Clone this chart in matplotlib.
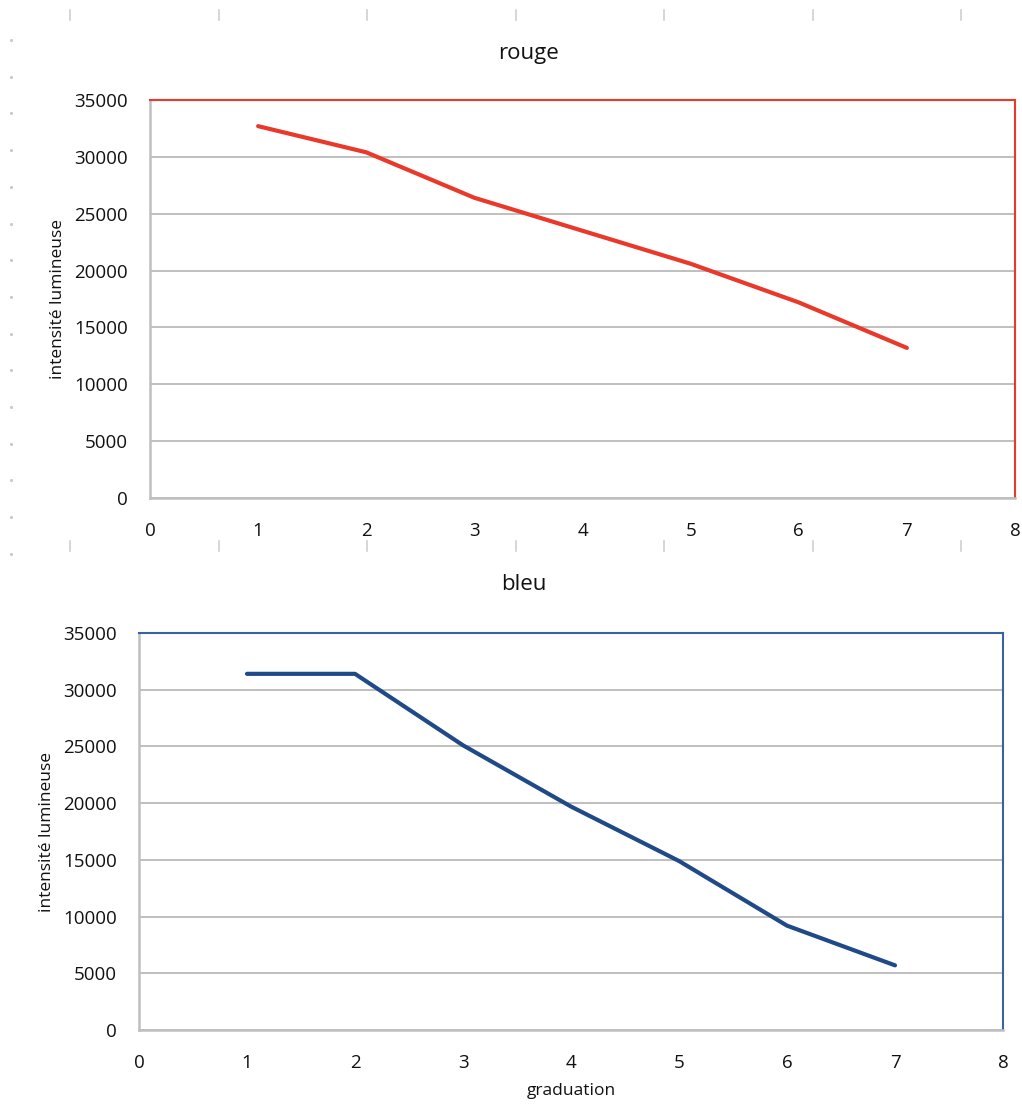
import matplotlib.pyplot as plt
from matplotlib.lines import Line2D
import numpy as np

plt.rcParams['font.family'] = ['Open Sans', 'DejaVu Sans']

graduation = [1, 2, 3, 4, 5, 6, 7]
rouge = [32700, 30400, 26400, 23500, 20600, 17200, 13200]
bleu = [31400, 31400, 25100, 19700, 14900, 9200, 5700]

red = '#e8392b'
blue_line = '#1f4a87'
blue_frame = '#3a62a0'
grid_grey = '#bfbfbf'
text_col = '#111111'

fig = plt.figure(figsize=(10.22, 11.08), dpi=100)

# faint spreadsheet cell marks in the background
for x in [70, 219, 367, 516, 664, 813, 961]:
    for y in [15, 546]:
        fig.add_artist(Line2D([x / 1022, x / 1022], [1 - (y - 5) / 1108, 1 - (y + 5) / 1108],
                              color='#d0d0d0', lw=1.2))
for y in np.arange(40, 560, 36.7):
    fig.add_artist(Line2D([11 / 1022], [1 - y / 1108], marker='o', ms=1.2,
                          color='#c8c8c8', lw=0))


def style(ax, frame_color, xlabel=None):
    ax.set_xlim(0, 8)
    ax.set_ylim(0, 35000)
    ax.set_xticks(range(0, 9))
    ax.set_yticks(range(0, 35001, 5000))
    ax.grid(axis='y', color=grid_grey, lw=1.4)
    ax.set_axisbelow(True)
    for s in ['left', 'bottom']:
        ax.spines[s].set_color(grid_grey)
        ax.spines[s].set_linewidth(1.8)
    for s in ['top', 'right']:
        ax.spines[s].set_color(frame_color)
        ax.spines[s].set_linewidth(1.5)
    ax.tick_params(axis='both', length=0, labelsize=13.5, colors=text_col)
    ax.tick_params(axis='x', pad=17)
    ax.tick_params(axis='y', pad=16)
    ax.set_ylabel('intensité lumineuse', fontsize=12.5, labelpad=6, color=text_col)
    if xlabel:
        ax.set_xlabel(xlabel, fontsize=12.5, labelpad=8, color=text_col)


# top chart: rouge
ax1 = fig.add_axes([150 / 1022, 1 - 498 / 1108, 865 / 1022, 398 / 1108])
ax1.plot(graduation, rouge, color=red, lw=3, solid_capstyle='round', solid_joinstyle='round')
style(ax1, red)
fig.text(528 / 1022, 1 - 53 / 1108, 'rouge', fontsize=16, ha='center', va='center', color=text_col)

# bottom chart: bleu
ax2 = fig.add_axes([139 / 1022, 1 - 1030 / 1108, 864 / 1022, 397 / 1108])
ax2.plot(graduation, bleu, color=blue_line, lw=3, solid_capstyle='round', solid_joinstyle='round')
style(ax2, blue_frame, xlabel='graduation')
fig.text(524 / 1022, 1 - 585 / 1108, 'bleu', fontsize=16, ha='center', va='center', color=text_col)

plt.savefig('out.png', dpi=100)
